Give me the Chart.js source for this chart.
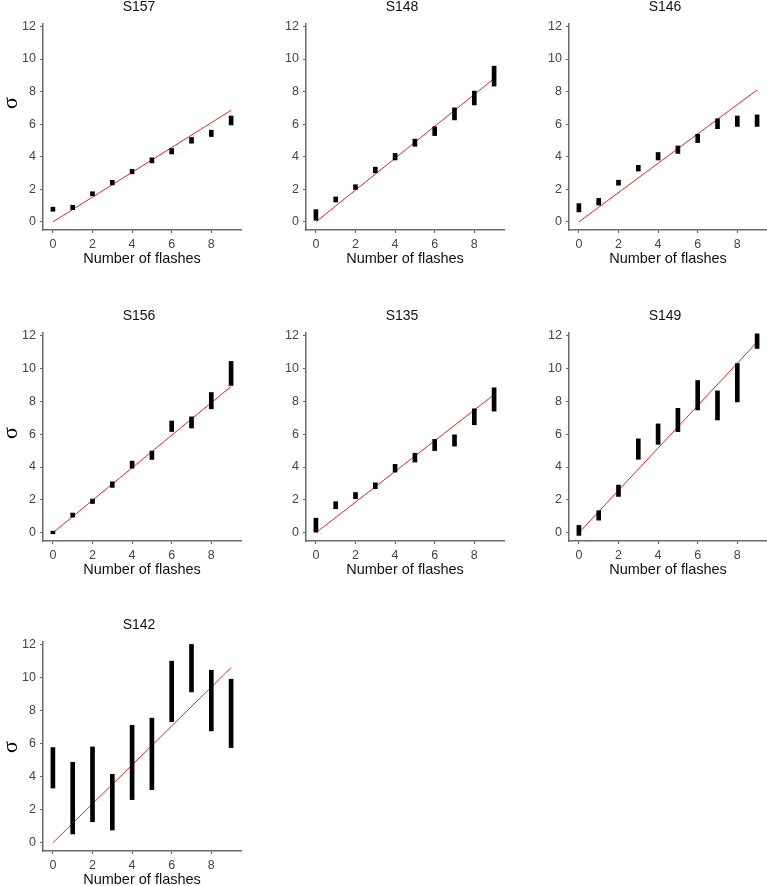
<!DOCTYPE html>
<html>
<head>
<meta charset="utf-8">
<script src="https://cdn.jsdelivr.net/npm/chart.js@4.4.1/dist/chart.umd.min.js"></script>
<style>
  body { margin: 0; background: #fff; width: 767px; height: 886px; overflow: hidden; position: relative; }
  canvas { position: absolute; }
</style>
</head>
<body>
<script>
const flashes = [0, 1, 2, 3, 4, 5, 6, 7, 8, 9];
const xTicks = [0, 2, 4, 6, 8];
const yTicks = [0, 2, 4, 6, 8, 10, 12];
const subjects = ['S157', 'S148', 'S146', 'S156', 'S135', 'S149', 'S142'];

// [low, high] of sigma for each number of flashes
const s157 = [[0.65, 0.9], [0.75, 1.02], [1.6, 1.85], [2.27, 2.55], [2.95, 3.23], [3.62, 3.93], [4.17, 4.5], [4.83, 5.18], [5.24, 5.63], [5.95, 6.5]];
const s148 = [[0.1, 0.75], [1.22, 1.53], [1.99, 2.28], [3.01, 3.36], [3.8, 4.2], [4.64, 5.08], [5.3, 5.84], [6.26, 7.0], [7.18, 8.03], [8.34, 9.56]];
const s146 = [[0.61, 1.12], [1.03, 1.44], [2.25, 2.56], [3.12, 3.47], [3.8, 4.26], [4.2, 4.66], [4.87, 5.38], [5.72, 6.33], [5.86, 6.5], [5.86, 6.57]];
const s156 = [[-0.06, 0.1], [0.95, 1.2], [1.78, 2.05], [2.76, 3.1], [3.93, 4.36], [4.46, 4.97], [6.16, 6.8], [6.37, 7.05], [7.54, 8.53], [8.96, 10.42]];
const s135 = [[0.04, 0.89], [1.46, 1.89], [2.07, 2.45], [2.68, 3.04], [3.69, 4.16], [4.3, 4.84], [5.0, 5.68], [5.27, 5.96], [6.57, 7.54], [7.4, 8.82]];
const s149 = [[-0.16, 0.45], [0.77, 1.34], [2.21, 2.9], [4.47, 5.71], [5.38, 6.62], [6.15, 7.57], [7.47, 9.26], [6.86, 8.63], [7.96, 10.29], [11.21, 12.1]];
const s142 = [[3.31, 5.76], [0.53, 4.87], [1.27, 5.8], [0.77, 4.14], [2.61, 7.11], [3.21, 7.54], [7.33, 10.99], [9.13, 12.0], [6.77, 10.44], [5.76, 9.9]];

// red fitted line, value at 0 and at 9 flashes
const fitStart = [0, 0, 0, 0, 0, 0, 0];
const fitEnd = [6.85, 8.8, 8.1, 8.9, 8.4, 11.6, 10.6];

const ranges = [s157, s148, s146, s156, s135, s149, s142];

const colLeft = [0, 263, 526];
const rowTop = [0, 309, 618];
const plotBottom = [230, 232, 233];
const sigmaY = [103, 124, 129];

const sans = '"Liberation Sans", Arial, sans-serif';
const axisGrey = '#6a6a6a';

// panel title centred over the plot, plus the sigma axis label on the left column
const panelText = {
  id: 'panelText',
  afterDraw(chart, args, opts) {
    const ctx = chart.ctx;
    const area = chart.chartArea;
    ctx.save();
    ctx.fillStyle = '#111';
    ctx.font = '14px ' + sans;
    ctx.textAlign = 'center';
    ctx.textBaseline = 'middle';
    ctx.fillText(opts.title, (area.left + area.right) / 2 - 3, area.top - 17);
    if (opts.sigma) {
      ctx.translate(11, opts.sigmaY);
      ctx.rotate(-Math.PI / 2);
      ctx.font = '22px "Liberation Serif", "DejaVu Serif", serif';
      ctx.fillStyle = '#000';
      ctx.fillText('σ', 0, 0);
    }
    ctx.restore();
  }
};

subjects.forEach((name, i) => {
  const c = i % 3;
  const r = Math.floor(i / 3);
  const canvas = document.createElement('canvas');
  canvas.width = 256;
  canvas.height = plotBottom[r] + 38;
  canvas.style.left = colLeft[c] + 'px';
  canvas.style.top = rowTop[r] + 'px';
  document.body.appendChild(canvas);

  new Chart(canvas.getContext('2d'), {
    type: 'bar',
    data: {
      datasets: [
        {
          type: 'bar',
          data: flashes.map((f, k) => ({x: f, y: ranges[i][k]})),
          backgroundColor: '#000',
          borderWidth: 0,
          barThickness: 4,
        },
        {
          type: 'line',
          data: [{x: flashes[0], y: fitStart[i]}, {x: flashes[flashes.length - 1], y: fitEnd[i]}],
          borderColor: '#f01e1e',
          borderWidth: 1,
          pointRadius: 0,
          fill: false,
        },
      ],
    },
    options: {
      responsive: false,
      animation: false,
      events: [],
      layout: {padding: {left: 0, right: 15, top: 24, bottom: 0}},
      plugins: {
        legend: {display: false},
        tooltip: {enabled: false},
        title: {display: false},
        panelText: {title: name, sigma: c === 0, sigmaY: sigmaY[r]},
      },
      scales: {
        x: {
          type: 'linear',
          min: -0.5,
          max: 9.5,
          offset: false,
          afterBuildTicks: s => { s.ticks = xTicks.map(v => ({value: v})); },
          afterFit: s => { s.height = 38; },
          grid: {display: true, drawOnChartArea: false, drawTicks: true, tickLength: 3, tickColor: axisGrey, tickWidth: 1.2, offset: false},
          border: {display: true, color: axisGrey, width: 1.5},
          ticks: {color: '#444', font: {family: sans, size: 12.5}, padding: 4.5, maxRotation: 0, autoSkip: false},
          title: {display: true, text: 'Number of flashes', color: '#111', font: {family: sans, size: 14.5}, padding: {top: 0, bottom: 0.8}},
        },
        y: {
          type: 'linear',
          min: -0.5,
          max: 12.15,
          afterBuildTicks: s => { s.ticks = yTicks.map(v => ({value: v})); },
          afterFit: s => { s.width = 43; },
          grid: {display: true, drawOnChartArea: false, drawTicks: true, tickLength: 3, tickColor: axisGrey, tickWidth: 1.2},
          border: {display: true, color: axisGrey, width: 1.5},
          ticks: {color: '#444', font: {family: sans, size: 12.5}, padding: 4},
        },
      },
    },
    plugins: [panelText],
  });
});
</script>
</body>
</html>
